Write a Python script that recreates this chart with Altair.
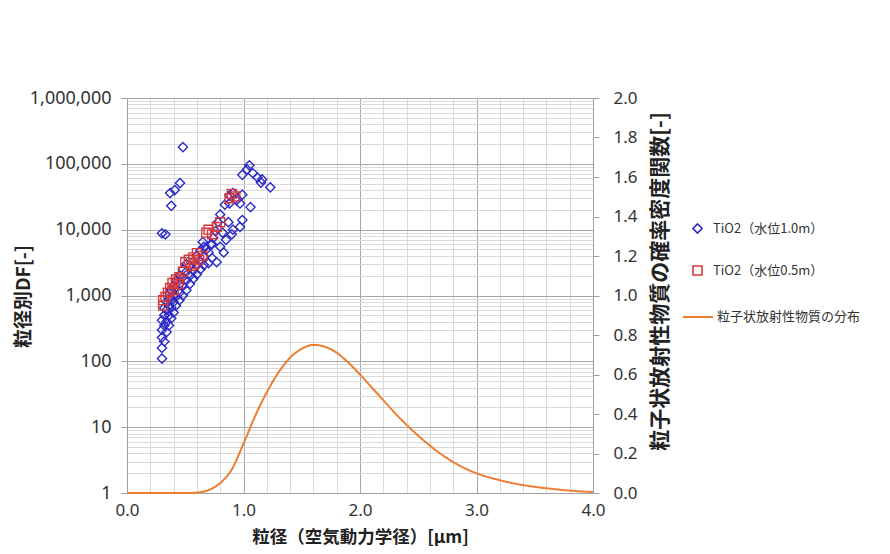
import altair as alt
import pandas as pd

# ---- data ----
blue_x = [0.48, 0.455, 0.41, 0.37, 0.38, 0.30, 0.33,
          1.05, 1.03, 1.08, 0.99, 1.12, 1.16, 1.23, 1.15,
          0.91, 0.88, 0.99, 0.94, 0.88, 0.84, 0.97, 1.06, 0.80, 0.78, 0.87, 0.99, 0.97,
          0.91, 0.82, 0.90, 0.76, 0.74, 0.72, 0.80, 0.85, 0.83, 0.77, 0.68, 0.65,
          0.30, 0.30, 0.30, 0.30, 0.30,
          0.32, 0.32, 0.32, 0.32,
          0.34, 0.34, 0.34, 0.34,
          0.36, 0.36, 0.36, 0.36, 0.36,
          0.38, 0.38, 0.38, 0.38,
          0.40, 0.40, 0.40, 0.40,
          0.42, 0.42, 0.42, 0.42,
          0.45, 0.45, 0.45, 0.45,
          0.48, 0.48, 0.48, 0.48,
          0.51, 0.51, 0.51, 0.51,
          0.54, 0.54, 0.54,
          0.57, 0.57, 0.57,
          0.60, 0.60, 0.60,
          0.63, 0.63, 0.63,
          0.66, 0.66, 0.66,
          0.70, 0.70,
          0.73, 0.73]
blue_y = [180000, 51000, 40000, 36000, 23000, 8800, 8500,
          95000, 82000, 72000, 68000, 62000, 58000, 44000, 52000,
          36000, 33000, 34000, 28000, 25000, 24000, 25000, 22000, 17000, 13000, 13000, 14000, 11000,
          10000, 9000, 8500, 9500, 7500, 6000, 5500, 7000, 4500, 3200, 5000, 6500,
          110, 160, 230, 300, 420,
          200, 350, 500, 650,
          280, 400, 600, 800,
          350, 500, 700, 900, 1100,
          450, 650, 900, 1200,
          550, 800, 1000, 1400,
          700, 950, 1300, 1700,
          850, 1100, 1500, 2000,
          1000, 1400, 1900, 2500,
          1200, 1700, 2300, 3000,
          1500, 2000, 2800,
          1800, 2400, 3300,
          2100, 2900, 4000,
          2500, 3300, 4800,
          2900, 3900, 5500,
          3100, 4500,
          3700, 6000]

red_x = [0.31, 0.31, 0.33, 0.35, 0.37, 0.39, 0.42, 0.45, 0.48, 0.50, 0.53, 0.55, 0.58,
         0.57, 0.60, 0.62, 0.65, 0.68, 0.70, 0.73, 0.77, 0.80, 0.88, 0.90, 0.93, 0.40, 0.44]
red_y = [700, 850, 950, 1100, 1300, 1550, 1750, 1900, 2300, 3200, 3500, 2800, 3000,
         3800, 4400, 3500, 4000, 9000, 10000, 8500, 11000, 13000, 30000, 35000, 32000, 1200, 1500]

curve_x = [0.0, 0.5, 0.6, 0.7, 0.8, 0.9, 1.0, 1.1, 1.2, 1.3, 1.4, 1.5, 1.6, 1.7, 1.8,
           1.9, 2.0, 2.1, 2.2, 2.3, 2.4, 2.5, 2.6, 2.7, 2.8, 2.9, 3.0, 3.2, 3.4,
           3.6, 3.8, 4.0]
curve_y = [0.0, 0.0, 0.002, 0.015, 0.05, 0.12, 0.25, 0.39, 0.51, 0.61, 0.685, 0.73, 0.75,
           0.74, 0.71, 0.66, 0.60, 0.535, 0.47, 0.405, 0.345, 0.29, 0.24, 0.195, 0.157,
           0.125, 0.10, 0.065, 0.04, 0.024, 0.012, 0.005]

point_series = ["TiO2（水位1.0m）", "TiO2（水位0.5m）"]
point_colors = ["#2B2BC8", "#D8383A"]
point_shapes = ["diamond", "square"]
point_sizes = [85, 80]
line_series = "粒子状放射性物質の分布"
line_color = "#ED7D31"

x_ticks = [0.0, 0.2, 0.4, 0.6, 0.8, 1.0, 1.2, 1.4, 1.6, 1.8, 2.0, 2.2, 2.4, 2.6, 2.8,
           3.0, 3.2, 3.4, 3.6, 3.8, 4.0]
y_ticks = [m * 10 ** k for k in range(6) for m in range(1, 10)] + [1000000]
y2_ticks = [0.0, 0.2, 0.4, 0.6, 0.8, 1.0, 1.2, 1.4, 1.6, 1.8, 2.0]

pts = pd.DataFrame({
    "x": blue_x + red_x,
    "y": blue_y + red_y,
    "series": [point_series[0]] * len(blue_x) + [point_series[1]] * len(red_x),
})
crv = pd.DataFrame({"x": curve_x, "y": curve_y, "series": line_series})

LABEL_FONT = "Noto Sans"
TITLE_FONT = "Noto Sans CJK JP"
is_decade = "abs(log(datum.value)/LN10 - round(log(datum.value)/LN10)) < 0.000001"

x_axis = alt.Axis(
    values=x_ticks, title="粒径（空気動力学径）[μm]",
    labelExpr="datum.value % 1 == 0 ? format(datum.value, '.1f') : ''",
    labelFlush=False, labelOverlap=False, labelFont=LABEL_FONT, labelFontSize=17,
    labelColor="#333333", labelPadding=9, ticks=False,
    grid=True,
    gridColor={"condition": {"test": "datum.value % 1 == 0", "value": "#a8a8a8"}, "value": "#d9d9d9"},
    domainColor="#a0a0a0",
    titleFont=TITLE_FONT, titleFontSize=17.5, titleFontWeight="bold", titleColor="#222222",
    titleY=44, titleBaseline="middle",
)
x_enc = alt.X("x:Q", scale=alt.Scale(domain=[0, 4], nice=False), axis=x_axis)

point_legend = alt.Legend(
    title=None, orient="none", legendX=564, legendY=124,
    labelFont=TITLE_FONT, labelFontSize=13, labelColor="#333333",
    rowPadding=25, symbolStrokeWidth=1.6, symbolSize=85, labelOffset=9,
)
line_legend = alt.Legend(
    title=None, orient="none", legendX=555, legendY=203,
    labelFont=TITLE_FONT, labelFontSize=13, labelColor="#333333",
    symbolType="stroke", symbolSize=900, symbolStrokeColor=line_color,
    symbolStrokeWidth=2, labelOffset=3,
)

points = alt.Chart(pts).mark_point(filled=False, strokeWidth=1.4, opacity=1).encode(
    x=x_enc,
    y=alt.Y("y:Q", scale=alt.Scale(type="log", domain=[1, 1000000], nice=False),
            axis=alt.Axis(
                values=y_ticks, title="粒径別DF[-]",
                labelExpr=f"({is_decade}) ? format(datum.value, ',') : ''",
                labelFlush=False, labelOverlap=False, labelFont=LABEL_FONT, labelFontSize=18,
                labelColor="#333333", labelPadding=10, tickSize=6,
                tickColor={"condition": {"test": is_decade, "value": "#a0a0a0"},
                           "value": "rgba(0,0,0,0)"},
                grid=True,
                gridColor={"condition": {"test": is_decade, "value": "#a8a8a8"},
                           "value": "#d9d9d9"},
                domainColor="#a0a0a0",
                titleFont=TITLE_FONT, titleFontSize=19, titleFontWeight="bold",
                titleColor="#222222", titleX=-104, titleY=198, titleBaseline="middle",
            )),
    color=alt.Color("series:N", scale=alt.Scale(domain=point_series, range=point_colors),
                    legend=point_legend),
    shape=alt.Shape("series:N", scale=alt.Scale(domain=point_series, range=point_shapes),
                    legend=point_legend),
    size=alt.Size("series:N", scale=alt.Scale(domain=point_series, range=point_sizes), legend=None),
)

line = alt.Chart(crv).mark_line(strokeWidth=2, interpolate="monotone", color=line_color).encode(
    x=x_enc,
    y=alt.Y("y:Q", scale=alt.Scale(domain=[0, 2], nice=False),
            axis=alt.Axis(
                orient="right", values=y2_ticks, format=".1f",
                title="粒子状放射性物質の確率密度関数[-]",
                labelFlush=False, labelOverlap=False, labelFont=LABEL_FONT, labelFontSize=17,
                labelColor="#333333", labelPadding=14, tickSize=6, tickColor="#a0a0a0",
                grid=False, domainColor="#a0a0a0",
                titleFont=TITLE_FONT, titleFontSize=21, titleFontWeight="bold",
                titleColor="#222222", titleAngle=270, titleX=67, titleY=183,
                titleBaseline="middle",
            )),
    strokeDash=alt.StrokeDash("series:N", scale=alt.Scale(domain=[line_series], range=[[1, 0]]),
                              legend=line_legend),
)

chart = alt.layer(points, line).resolve_scale(y="independent").properties(
    width=466, height=395,
    autosize=alt.AutoSizeParams(type="none"),
    padding={"left": 119, "top": 90, "right": 289, "bottom": 53},
    background="white",
).configure_view(stroke=None)

chart.save("out.html", embed_options={"renderer": "svg", "actions": False})
